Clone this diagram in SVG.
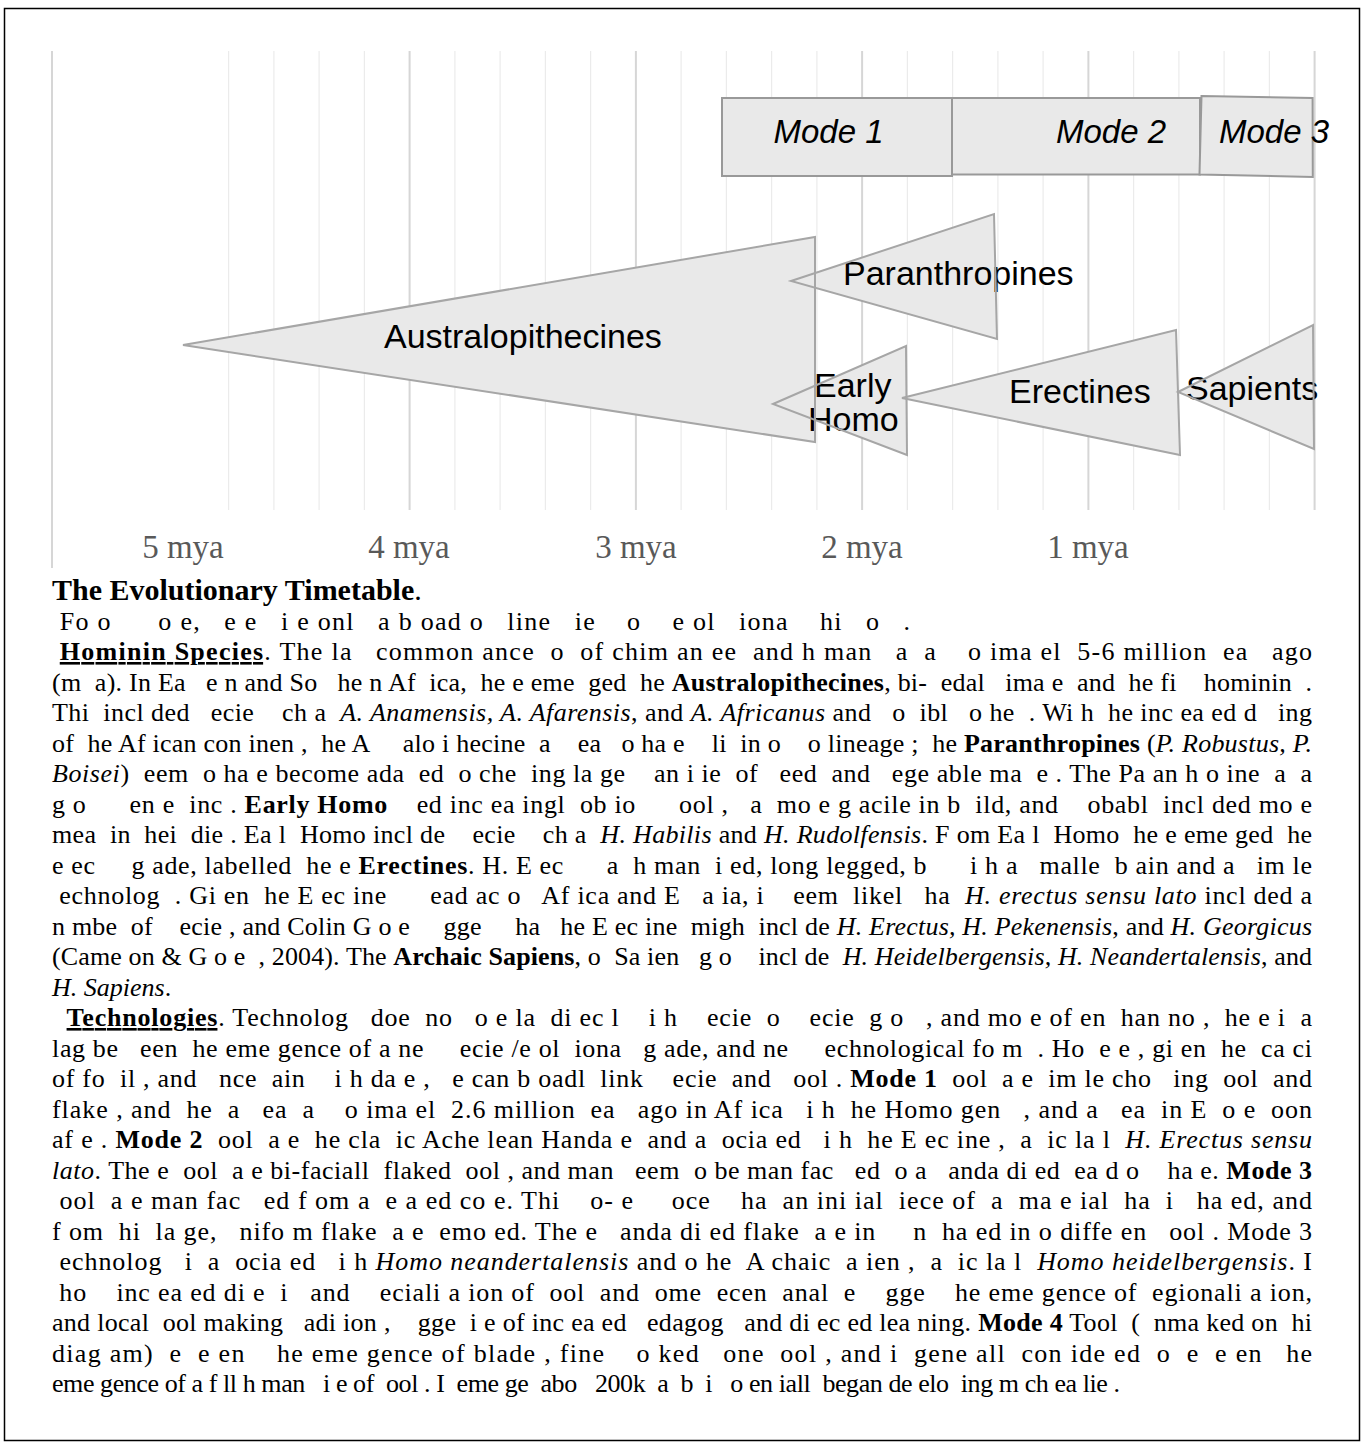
<svg xmlns="http://www.w3.org/2000/svg" xmlns:xlink="http://www.w3.org/1999/xlink" width="1362" height="1445" viewBox="0 0 1362 1445">
<style>
.grid-thin{stroke:#ebebeb;stroke-width:1.2}
.grid-major{stroke:#d6d6d6;stroke-width:2}
.axis{font-family:"Liberation Serif","Times New Roman",serif;font-size:33px;fill:#595959;text-anchor:middle}
.shape{fill:#e9e9e9;stroke:none}
.edge{fill:none;stroke:#a6a6a6;stroke-width:2;stroke-linejoin:miter}
.box{fill:#e9e9e9;stroke:#999999;stroke-width:2}
.lbl{font-family:"Liberation Sans",Arial,sans-serif;font-size:34px;fill:#000}
.mode{font-family:"Liberation Sans",Arial,sans-serif;font-size:33px;font-style:italic;fill:#000}
.h{font-family:"Liberation Serif","Times New Roman",serif;font-size:30px;font-weight:bold;fill:#000}
.t{font-family:"Liberation Serif","Times New Roman",serif;font-size:26px;fill:#000;white-space:pre}
.b{font-weight:bold}
.i{font-style:italic}
.u{font-weight:bold;text-decoration:underline}
</style>
<defs>
<polygon id="p-aus" points="183,345 815,237 815,442"/>
<polygon id="p-par" points="791,281 994,214 997,339"/>
<polygon id="p-early" points="773,404 906,346 907,455"/>
<polygon id="p-ere" points="902,398 1176,330 1180,455"/>
<polygon id="p-sap" points="1178,392 1313,325 1314,449"/>
</defs>
<rect x="4.5" y="8.5" width="1355" height="1432" fill="#fff" stroke="#000" stroke-width="1.5"/>
<g id="grid">
<line class="grid-major" x1="52" y1="51" x2="52" y2="568"/>
<line class="grid-thin" x1="228.6" y1="51" x2="228.6" y2="510"/>
<line class="grid-thin" x1="273.9" y1="51" x2="273.9" y2="510"/>
<line class="grid-thin" x1="319.1" y1="51" x2="319.1" y2="510"/>
<line class="grid-thin" x1="364.4" y1="51" x2="364.4" y2="510"/>
<line class="grid-major" x1="409.6" y1="51" x2="409.6" y2="510"/>
<line class="grid-thin" x1="454.9" y1="51" x2="454.9" y2="510"/>
<line class="grid-thin" x1="500.1" y1="51" x2="500.1" y2="510"/>
<line class="grid-thin" x1="545.4" y1="51" x2="545.4" y2="510"/>
<line class="grid-thin" x1="590.6" y1="51" x2="590.6" y2="510"/>
<line class="grid-major" x1="635.9" y1="51" x2="635.9" y2="510"/>
<line class="grid-thin" x1="681.1" y1="51" x2="681.1" y2="510"/>
<line class="grid-thin" x1="726.4" y1="51" x2="726.4" y2="510"/>
<line class="grid-thin" x1="771.6" y1="51" x2="771.6" y2="510"/>
<line class="grid-thin" x1="816.9" y1="51" x2="816.9" y2="510"/>
<line class="grid-major" x1="862.1" y1="51" x2="862.1" y2="510"/>
<line class="grid-thin" x1="907.4" y1="51" x2="907.4" y2="510"/>
<line class="grid-thin" x1="952.6" y1="51" x2="952.6" y2="510"/>
<line class="grid-thin" x1="997.9" y1="51" x2="997.9" y2="510"/>
<line class="grid-thin" x1="1043.1" y1="51" x2="1043.1" y2="510"/>
<line class="grid-major" x1="1088.4" y1="51" x2="1088.4" y2="510"/>
<line class="grid-thin" x1="1133.6" y1="51" x2="1133.6" y2="510"/>
<line class="grid-thin" x1="1178.9" y1="51" x2="1178.9" y2="510"/>
<line class="grid-thin" x1="1224.1" y1="51" x2="1224.1" y2="510"/>
<line class="grid-thin" x1="1269.4" y1="51" x2="1269.4" y2="510"/>
<line class="grid-major" x1="1314.6" y1="51" x2="1314.6" y2="510"/>
</g>
<g id="axis-labels">
<text class="axis" x="183" y="558">5 mya</text>
<text class="axis" x="409" y="558">4 mya</text>
<text class="axis" x="636" y="558">3 mya</text>
<text class="axis" x="862" y="558">2 mya</text>
<text class="axis" x="1088" y="558">1 mya</text>
</g>
<g id="mode1"><rect class="box" x="722" y="98" width="230" height="78"/><text class="mode" x="773.5" y="143">Mode 1</text></g>
<g id="mode2"><rect class="box" x="952" y="98" width="248" height="76.5"/><text class="mode" x="1056" y="143">Mode 2</text></g>
<g id="mode3"><polygon class="box" points="1201.5,96 1312.6,98 1312.8,177 1199.5,174.5"/><text class="mode" x="1219" y="143">Mode 3</text></g>
<g id="australopithecines"><use xlink:href="#p-aus" class="shape"/><text class="lbl" x="384" y="348">Australopithecines</text></g>
<g id="paranthropines"><use xlink:href="#p-par" class="shape"/><text class="lbl" x="843" y="285">Paranthropines</text></g>
<g id="early-homo"><use xlink:href="#p-early" class="shape"/><text class="lbl" x="814" y="397">Early<tspan x="808" y="431">Homo</tspan></text></g>
<g id="erectines"><use xlink:href="#p-ere" class="shape"/><text class="lbl" x="1009" y="403">Erectines</text></g>
<g id="sapients"><use xlink:href="#p-sap" class="shape"/><text class="lbl" x="1186" y="400">Sapients</text></g>
<g id="outlines">
<use xlink:href="#p-aus" class="edge"/>
<use xlink:href="#p-par" class="edge"/>
<use xlink:href="#p-early" class="edge"/>
<use xlink:href="#p-ere" class="edge"/>
<use xlink:href="#p-sap" class="edge"/>
</g>
<g id="caption" xml:space="preserve">
<text class="h" x="52" y="600">The Evolutionary Timetable<tspan font-weight="normal">.</tspan></text>
<text class="t" x="52" y="629.5" textLength="858" lengthAdjust="spacing"> Fo o      o e,   e e   i e onl   a b oad o   line   ie    o    e ol   iona    hi   o   .</text>
<text class="t" x="52" y="660" textLength="1260" lengthAdjust="spacing"> <tspan class="u">Hominin Species</tspan>. The la   common ance  o  of chim an ee  and h man   a  a    o ima el  5-6 million  ea   ago</text>
<text class="t" x="52" y="690.5" textLength="1260" lengthAdjust="spacing">(m  a). In Ea   e n and So   he n Af  ica,  he e eme  ged  he <tspan class="b">Australopithecines</tspan>, bi-  edal   ima e  and  he fi    hominin  .</text>
<text class="t" x="52" y="721" textLength="1260" lengthAdjust="spacing">Thi  incl ded   ecie    ch a  <tspan class="i">A. Anamensis, A. Afarensis</tspan>, and <tspan class="i">A. Africanus</tspan> and   o  ibl   o he  . Wi h  he inc ea ed d   ing</text>
<text class="t" x="52" y="751.5" textLength="1260" lengthAdjust="spacing">of  he Af ican con inen ,  he A     alo i hecine  a    ea   o ha e    li  in o    o lineage ;  he <tspan class="b">Paranthropines</tspan> (<tspan class="i">P. Robustus, P.</tspan></text>
<text class="t" x="52" y="782" textLength="1260" lengthAdjust="spacing"><tspan class="i">Boisei</tspan>)  eem  o ha e become ada  ed  o che  ing la ge    an i ie  of   eed  and   ege able ma  e . The Pa an h o ine  a  a</text>
<text class="t" x="52" y="812.5" textLength="1260" lengthAdjust="spacing">g o      en e  inc . <tspan class="b">Early Homo</tspan>    ed inc ea ingl  ob io      ool ,   a  mo e g acile in b  ild, and    obabl  incl ded mo e</text>
<text class="t" x="52" y="843" textLength="1260" lengthAdjust="spacing">mea  in  hei  die . Ea l  Homo incl de    ecie    ch a  <tspan class="i">H. Habilis</tspan> and <tspan class="i">H. Rudolfensis</tspan>. F om Ea l  Homo  he e eme ged  he</text>
<text class="t" x="52" y="873.5" textLength="1260" lengthAdjust="spacing">e ec     g ade, labelled  he e <tspan class="b">Erectines</tspan>. H. E ec      a  h man  i ed, long legged, b      i h a   malle  b ain and a   im le</text>
<text class="t" x="52" y="904" textLength="1260" lengthAdjust="spacing"> echnolog  . Gi en  he E ec ine      ead ac o   Af ica and E   a ia, i    eem  likel   ha  <tspan class="i">H. erectus sensu lato</tspan> incl ded a</text>
<text class="t" x="52" y="934.5" textLength="1260" lengthAdjust="spacing">n mbe  of    ecie , and Colin G o e     gge     ha   he E ec ine  migh  incl de <tspan class="i">H. Erectus, H. Pekenensis</tspan>, and <tspan class="i">H. Georgicus</tspan></text>
<text class="t" x="52" y="965" textLength="1260" lengthAdjust="spacing">(Came on &amp; G o e  , 2004). The <tspan class="b">Archaic Sapiens</tspan>, o  Sa ien   g o    incl de  <tspan class="i">H. Heidelbergensis, H. Neandertalensis</tspan>, and</text>
<text class="t" x="52" y="995.5"><tspan class="i">H. Sapiens</tspan>.</text>
<text class="t" x="52" y="1026" textLength="1260" lengthAdjust="spacing">  <tspan class="u">Technologies</tspan>. Technolog   doe  no   o e la  di ec l    i h    ecie  o    ecie  g o   , and mo e of en  han no ,  he e i  a</text>
<text class="t" x="52" y="1056.5" textLength="1260" lengthAdjust="spacing">lag be   een  he eme gence of a ne     ecie /e ol  iona   g ade, and ne     echnological fo m  . Ho  e e , gi en  he  ca ci</text>
<text class="t" x="52" y="1087" textLength="1260" lengthAdjust="spacing">of fo  il , and   nce  ain    i h da e ,   e can b oadl  link    ecie  and   ool . <tspan class="b">Mode 1</tspan>  ool  a e  im le cho   ing  ool  and</text>
<text class="t" x="52" y="1117.5" textLength="1260" lengthAdjust="spacing">flake , and  he  a   ea  a    o ima el  2.6 million  ea   ago in Af ica   i h  he Homo gen   , and a   ea  in E  o e  oon</text>
<text class="t" x="52" y="1148" textLength="1260" lengthAdjust="spacing">af e . <tspan class="b">Mode 2</tspan>  ool  a e  he cla  ic Ache lean Handa e  and a  ocia ed   i h  he E ec ine ,  a  ic la l  <tspan class="i">H. Erectus sensu</tspan></text>
<text class="t" x="52" y="1178.5" textLength="1260" lengthAdjust="spacing"><tspan class="i">lato</tspan>. The e  ool  a e bi-faciall  flaked  ool , and man   eem  o be man fac   ed  o a   anda di ed  ea d o    ha e. <tspan class="b">Mode 3</tspan></text>
<text class="t" x="52" y="1209" textLength="1260" lengthAdjust="spacing"> ool  a e man fac   ed f om a  e a ed co e. Thi    o- e     oce    ha  an ini ial  iece of  a  ma e ial  ha  i   ha ed, and</text>
<text class="t" x="52" y="1239.5" textLength="1260" lengthAdjust="spacing">f om  hi  la ge,   nifo m flake  a e  emo ed. The e   anda di ed flake  a e in     n  ha ed in o diffe en   ool . Mode 3</text>
<text class="t" x="52" y="1270" textLength="1260" lengthAdjust="spacing"> echnolog   i  a  ocia ed   i h <tspan class="i">Homo neandertalensis</tspan> and o he  A chaic  a ien ,  a  ic la l  <tspan class="i">Homo heidelbergensis</tspan>. I</text>
<text class="t" x="52" y="1300.5" textLength="1260" lengthAdjust="spacing"> ho    inc ea ed di e  i   and    eciali a ion of  ool  and  ome  ecen  anal  e    gge    he eme gence of  egionali a ion,</text>
<text class="t" x="52" y="1331" textLength="1260" lengthAdjust="spacing">and local  ool making   adi ion ,    gge  i e of inc ea ed   edagog   and di ec ed lea ning. <tspan class="b">Mode 4</tspan> Tool  (  nma ked on  hi</text>
<text class="t" x="52" y="1361.5" textLength="1260" lengthAdjust="spacing">diag am)  e  e en    he eme gence of blade , fine    o ked   one  ool , and i  gene all  con ide ed  o  e  e en   he</text>
<text class="t" x="52" y="1392" textLength="1068" lengthAdjust="spacing">eme gence of a f ll h man   i e of  ool . I  eme ge  abo   200k  a  b  i   o en iall  began de elo  ing m ch ea lie .</text>
</g>
</svg>
